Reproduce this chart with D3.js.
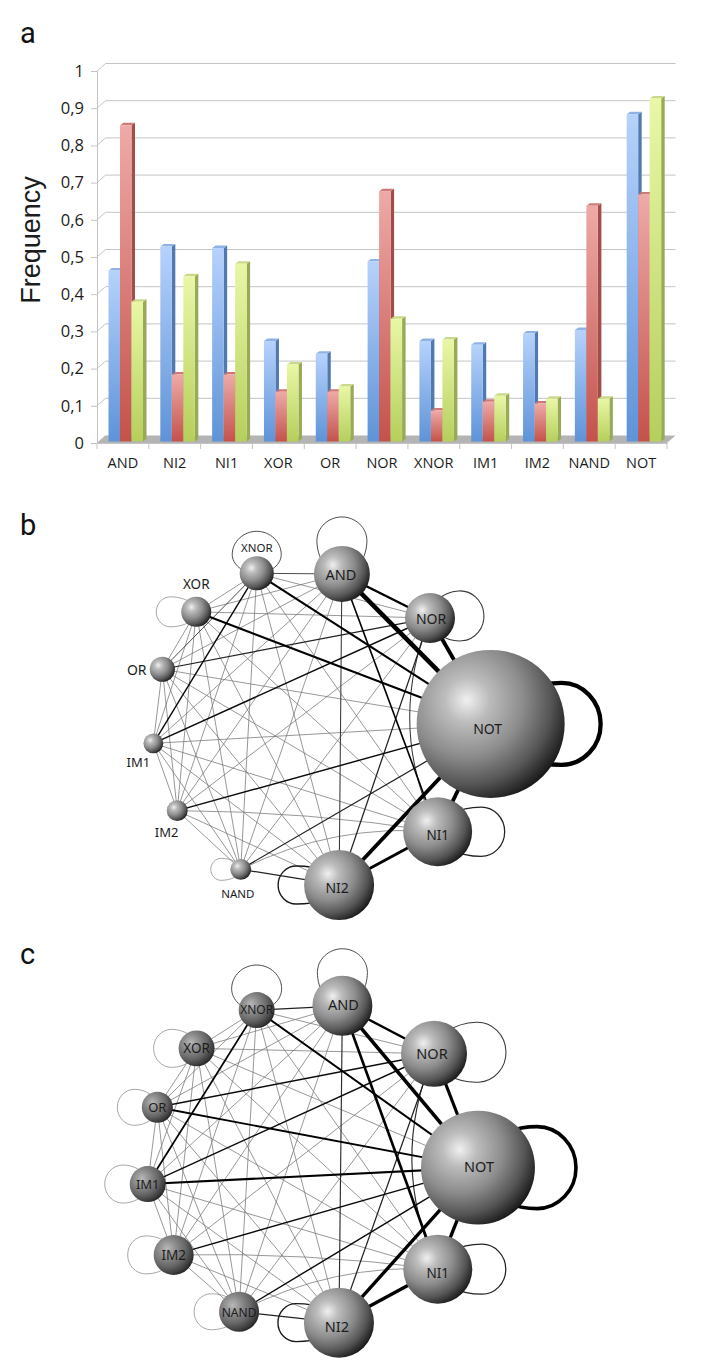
<!DOCTYPE html>
<html lang="en">
<head>
    <meta charset="UTF-8">
    <title>Logic gate frequencies</title>
    <style>
        html, body { margin: 0; padding: 0; background: #fff; }
        svg { display: block; }
        text { fill: #1c1c1c; }
        .panel { font-family: Roboto, Arial, sans-serif; font-size: 29px; fill: #111; }
        .tick text { font-family: "Open Sans", sans-serif; }
    </style>
</head>
<body>
    <script src="https://d3js.org/d3.v7.min.js"></script>
    <script type="text/javascript">
        // ---- bar chart data (panel a) ----
        var categories = ["AND", "NI2", "NI1", "XOR", "OR", "NOR", "XNOR", "IM1", "IM2", "NAND", "NOT"];
        var blueValues = [0.46, 0.524, 0.52, 0.27, 0.236, 0.484, 0.27, 0.26, 0.29, 0.30, 0.88];
        var redValues = [0.85, 0.18, 0.18, 0.134, 0.134, 0.673, 0.083, 0.107, 0.102, 0.634, 0.664];
        var greenValues = [0.376, 0.444, 0.478, 0.207, 0.148, 0.33, 0.274, 0.123, 0.115, 0.115, 0.922];
        var yTicks = [0, 0.1, 0.2, 0.3, 0.4, 0.5, 0.6, 0.7, 0.8, 0.9, 1];
        var yTickLabels = ["0", "0,1", "0,2", "0,3", "0,4", "0,5", "0,6", "0,7", "0,8", "0,9", "1"];

        // ---- network data (panels b and c) ----
        var gates = ["AND", "NOR", "NOT", "NI1", "NI2", "NAND", "IM2", "IM1", "OR", "XOR", "XNOR"];
        var sizeB = [0.143, 0.114, 1, 0.217, 0.224, 0.02, 0.02, 0.018, 0.029, 0.041, 0.053];
        var sizeC = [0.164, 0.199, 0.593, 0.217, 0.224, 0.073, 0.073, 0.059, 0.044, 0.059, 0.059];
        // bearing in degrees and distance from the middle of each ring
        var bearingB = [11.7, 47.5, 88.7, 129.1, 169.5, 206.1, 238.1, 264.4, 291.7, 315.6, 341];
        var ringB = [157.3, 162.8, 180.7, 164.5, 159.7, 157.4, 156.4, 157.4, 158.9, 162.6, 163.6];
        var bearingC = [11.5, 48.1, 90.9, 129.2, 169.6, 205.8, 236.6, 263.3, 290.7, 315.8, 341];
        var ringC = [162.5, 166.6, 168, 164.9, 160.3, 163, 163.3, 163.4, 163.2, 162.7, 163.9];

        // every pair is linked; strength 1.6 unless listed here
        var strongB = [["AND", "NOT", 9.5], ["NOR", "NOT", 8], ["NI1", "NOT", 8], ["NI2", "NOT", 8], ["AND", "NOR", 5],
            ["NI2", "NI1", 6], ["XOR", "NOT", 4.4], ["XNOR", "NOT", 4.4], ["AND", "NI1", 3.4], ["AND", "NI2", 2.2],
            ["XNOR", "AND", 2], ["OR", "NOR", 2.6], ["IM1", "NOR", 3], ["IM1", "XNOR", 3], ["IM2", "NOT", 3],
            ["NAND", "NOT", 2.6], ["NAND", "NI2", 2.6], ["NOR", "NI1", 2.2], ["NOR", "NI2", 2.6], ["OR", "XNOR", 2]];
        var strongC = [["AND", "NOT", 7.5], ["NOR", "NOT", 6.5], ["NI1", "NOT", 7], ["NI2", "NOT", 7], ["AND", "NOR", 5],
            ["NI2", "NI1", 7], ["AND", "NI1", 5.5], ["AND", "NI2", 2.4], ["XNOR", "NOT", 4], ["OR", "NOT", 4],
            ["IM1", "NOT", 4.4], ["IM1", "XNOR", 3.6], ["OR", "NOR", 3], ["IM1", "NOR", 3], ["IM2", "NOT", 3],
            ["NAND", "NOT", 3], ["NAND", "NI2", 2.6], ["XNOR", "AND", 2.6], ["NOR", "NI1", 2.4], ["NOR", "NI2", 2.6]];
        var bentEdges = [["NOR", "NI1", -48], ["NAND", "NI1", 28], ["IM2", "NI1", 10]];

        // self loops: gate, direction in degrees, length, half width, strength
        var loopsB = [["XNOR", 0, 42, 24.5, 2], ["AND", 0, 57, 25, 2], ["NOR", 86, 54, 25, 2.2], ["NOT", 90, 110, 41, 9],
            ["NI1", 90, 67, 24.7, 2.6], ["NI2", 270, 61, 19, 2.8], ["NAND", 270, 30, 11, 1.5], ["XOR", 270, 40, 15, 1.5]];
        var loopsC = [["XNOR", 0, 45, 25, 2], ["AND", 0, 57, 25, 2], ["NOR", 88, 72, 30, 2.2], ["NOT", 90, 98, 41, 7.5],
            ["NI1", 90, 68, 25, 2.6], ["NI2", 270, 61, 19, 2.8], ["NAND", 270, 45, 18, 1.5], ["IM2", 270, 46, 19, 1.5],
            ["IM1", 270, 43, 19, 1.5], ["OR", 270, 40, 18, 1.5], ["XOR", 270, 43, 19, 1.5]];

        // ---- svg and gradients ----
        var svg = d3.select("body").append("svg").attr("width", 706).attr("height", 1363);
        var defs = svg.append("defs");

        function barGradient(id, top, bottom) {
            var g = defs.append("linearGradient").attr("id", id)
                .attr("x1", 0).attr("y1", 0).attr("x2", 0).attr("y2", 1);
            g.append("stop").attr("offset", "0%").attr("stop-color", top);
            g.append("stop").attr("offset", "100%").attr("stop-color", bottom);
        }
        barGradient("blueBar", "#b6d2fc", "#5e93d8");
        barGradient("redBar", "#eeaaa8", "#c4524b");
        barGradient("greenBar", "#e9f7a6", "#b5cf5c");

        function sphereGradient(id, stops) {
            var g = defs.append("radialGradient").attr("id", id)
                .attr("cx", 0.34).attr("cy", 0.34).attr("r", 0.76);
            stops.forEach(function(s) {
                g.append("stop").attr("offset", s[0]).attr("stop-color", s[1]);
            });
        }
        sphereGradient("sphere", [[0, "#f0f0f0"], [0.2, "#bcbcbc"], [0.5, "#8c8c8c"], [0.75, "#555"], [0.92, "#222"], [1, "#060606"]]);
        // the small nodes of panel c are drawn darker
        sphereGradient("sphereDark", [[0, "#b8b8b8"], [0.3, "#8c8c8c"], [0.6, "#666"], [0.85, "#3a3a3a"], [1, "#141414"]]);

        // ---- panel labels ----
        svg.selectAll("text.panel")
            .data([["a", 20, 43], ["b", 20, 535], ["c", 20, 964]])
            .enter().append("text")
            .attr("class", "panel")
            .attr("x", function(d) { return d[1]; })
            .attr("y", function(d) { return d[2]; })
            .text(function(d) { return d[0]; });

        // ---- panel a ----
        var x = d3.scaleBand().domain(categories).range([97, 667]);
        var y = d3.scaleLinear().domain([0, 1]).range([443, 71]);
        var wallX = 8.5, wallY = -7.5;   // depth of the pseudo 3d wall
        var barW = 11.5, barStart = 11.5, capX = 3.5, capY = -2.5, barLift = -1.5;
        var a = svg.append("g");

        // floor
        a.append("path").attr("fill", "#b4b4b4").attr("d", d3.line()([
            [x.range()[0], y(0)], [x.range()[0] + wallX, y(0) + wallY],
            [x.range()[1] + wallX, y(0) + wallY], [x.range()[1], y(0)]
        ]));

        // back wall grid and its left side
        a.selectAll("line.grid").data(yTicks.slice(1)).enter().append("line")
            .attr("x1", x.range()[0] + wallX).attr("x2", x.range()[1] + wallX)
            .attr("y1", function(d) { return y(d) + wallY; })
            .attr("y2", function(d) { return y(d) + wallY; })
            .attr("stroke", "#c4c4c4").attr("stroke-width", 1);
        a.selectAll("line.side").data(yTicks).enter().append("line")
            .attr("x1", x.range()[0]).attr("x2", x.range()[0] + wallX)
            .attr("y1", function(d) { return y(d); })
            .attr("y2", function(d) { return y(d) + wallY; })
            .attr("stroke", "#c4c4c4");

        var yAxis = d3.axisLeft(y).tickValues(yTicks).tickSize(6).tickPadding(7)
            .tickFormat(function(d, i) { return yTickLabels[i]; });
        var yg = a.append("g").attr("transform", "translate(" + x.range()[0] + ",0)").call(yAxis);
        yg.select(".domain").attr("stroke", "#c4c4c4");
        yg.selectAll(".tick line").attr("stroke", "#c4c4c4");
        yg.selectAll(".tick text").attr("font-size", 16.5).attr("fill", "#222");

        var xAxis = d3.axisBottom(x).tickSize(0).tickPadding(15);
        var xg = a.append("g").attr("transform", "translate(0," + y(0) + ")").call(xAxis);
        xg.select(".domain").attr("stroke", "#c4c4c4");
        xg.selectAll(".tick text").attr("font-size", 14.5).attr("fill", "#222");
        a.selectAll("line.xtick").data(categories.concat("end")).enter().append("line")
            .attr("x1", function(d, i) { return x.range()[0] + i * x.step(); })
            .attr("x2", function(d, i) { return x.range()[0] + i * x.step(); })
            .attr("y1", y(0)).attr("y2", y(0) + 6).attr("stroke", "#c4c4c4");

        // bars, back to front so each one covers the side of the one behind
        var barSeries = [
            { values: blueValues, fill: "url(#blueBar)", side: "#5079b0", cap: "#8fb2e6" },
            { values: redValues, fill: "url(#redBar)", side: "#a14e4b", cap: "#cf7a76" },
            { values: greenValues, fill: "url(#greenBar)", side: "#98aa55", cap: "#c8d98a" }
        ];
        barSeries.forEach(function(s, k) {
            var g = a.append("g");
            var left = function(i) { return x(categories[i]) + barStart + k * barW; };
            var top = function(v) { return y(v) + barLift; };
            s.values.forEach(function(v, i) {
                var x0 = left(i), x1 = x0 + barW, t = top(v), b = top(0);
                g.append("path").attr("fill", s.side).attr("d", d3.line()([
                    [x1, t], [x1 + capX, t + capY], [x1 + capX, b + capY], [x1, b]
                ]));
                g.append("path").attr("fill", s.cap).attr("d", d3.line()([
                    [x0, t], [x0 + capX, t + capY], [x1 + capX, t + capY], [x1, t]
                ]));
                g.append("rect").attr("x", x0).attr("y", t).attr("width", barW).attr("height", b - t)
                    .attr("fill", s.fill);
            });
        });

        // y title
        a.append("text")
            .attr("transform", "translate(39.5,240) rotate(-90)")
            .attr("text-anchor", "middle")
            .attr("font-family", "'Liberation Sans', Arial, sans-serif")
            .attr("font-size", 27)
            .text("Frequency");

        // ---- panels b and c ----
        var angle = d3.scaleLinear().domain([0, 360]).range([0, 2 * Math.PI]);
        var nodeRadius = d3.scaleSqrt().domain([0, 1]).range([0, 74]);
        var edgeWidth = d3.scaleLinear().domain([0, 10]).range([0, 4.8]);
        var edgeColor = d3.scaleLinear().domain([1.5, 2, 3.2]).range(["#858585", "#444", "#000"]).clamp(true);

        function drawNetwork(opt) {
            var g = svg.append("g").attr("transform", "translate(" + opt.center + ")");
            var pos = {}, rad = {};
            gates.forEach(function(name, i) {
                pos[name] = d3.pointRadial(angle(opt.bearing[i]), opt.ring[i]);
                rad[name] = nodeRadius(opt.size[i]);
            });

            // complete graph, weak links underneath
            var edges = [];
            d3.range(gates.length).forEach(function(i) {
                d3.range(i + 1, gates.length).forEach(function(j) {
                    var hit = opt.strong.find(function(e) {
                        return (e[0] === gates[i] && e[1] === gates[j]) || (e[1] === gates[i] && e[0] === gates[j]);
                    });
                    edges.push(hit || [gates[i], gates[j], 1.6]);
                });
            });
            edges.sort(function(p, q) { return p[2] - q[2]; });

            g.selectAll("path.edge").data(edges).enter().append("path")
                .attr("class", "edge")
                .attr("fill", "none")
                .attr("stroke", function(d) { return edgeColor(d[2]); })
                .attr("stroke-width", function(d) { return edgeWidth(d[2]); })
                .attr("d", function(d) {
                    var bend = bentEdges.find(function(e) {
                        return (e[0] === d[0] && e[1] === d[1]) || (e[1] === d[0] && e[0] === d[1]);
                    });
                    var p = d3.path();
                    if (!bend) {
                        p.moveTo(pos[d[0]][0], pos[d[0]][1]);
                        p.lineTo(pos[d[1]][0], pos[d[1]][1]);
                        return p.toString();
                    }
                    var s = pos[bend[0]], t = pos[bend[1]];
                    var dx = t[0] - s[0], dy = t[1] - s[1], len = Math.hypot(dx, dy);
                    p.moveTo(s[0], s[1]);
                    p.quadraticCurveTo((s[0] + t[0]) / 2 + dy / len * bend[2], (s[1] + t[1]) / 2 - dx / len * bend[2], t[0], t[1]);
                    return p.toString();
                });

            // self loops: leave the node sideways, tip is about a half circle
            g.selectAll("path.loop").data(opt.loops).enter().append("path")
                .attr("class", "loop")
                .attr("fill", "none")
                .attr("stroke", function(d) { return edgeColor(d[4]); })
                .attr("stroke-width", function(d) { return edgeWidth(d[4]); })
                .attr("transform", function(d) {
                    return "translate(" + pos[d[0]] + ") rotate(" + d[1] + ")";
                })
                .attr("d", function(d) {
                    var L = d[2], h = d[3], w = L - h * 0.95, m = L - w;
                    var p = d3.path();
                    p.moveTo(0, 0);
                    p.bezierCurveTo(-0.6 * h, 0, -h, -0.5 * w, -h, -w);
                    p.bezierCurveTo(-h, -w - 0.55 * m, -0.55 * h, -L, 0, -L);
                    p.bezierCurveTo(0.55 * h, -L, h, -w - 0.55 * m, h, -w);
                    p.bezierCurveTo(h, -0.5 * w, 0.6 * h, 0, 0, 0);
                    return p.toString();
                });

            // spheres
            g.selectAll("circle.node").data(gates).enter().append("circle")
                .attr("class", "node")
                .attr("cx", function(d) { return pos[d][0]; })
                .attr("cy", function(d) { return pos[d][1]; })
                .attr("r", function(d) { return rad[d]; })
                .attr("fill", function(d) {
                    return opt.dark.indexOf(d) >= 0 ? "url(#sphereDark)" : "url(#sphere)";
                });

            // labels
            g.selectAll("text.label").data(gates).enter().append("text")
                .attr("class", "label")
                .attr("text-anchor", "middle")
                .attr("font-family", "'Noto Sans', sans-serif")
                .attr("x", function(d) { return pos[d][0] + opt.labels[d][0]; })
                .attr("y", function(d) { return pos[d][1] + opt.labels[d][1]; })
                .attr("font-size", function(d) { return opt.labels[d][2]; })
                .text(function(d) { return d; });
        }

        drawNetwork({
            center: [310, 728], size: sizeB, bearing: bearingB, ring: ringB,
            strong: strongB, loops: loopsB, dark: [],
            labels: {
                AND: [-1, 6, 14.5], NOR: [1, 6, 14], NOT: [-3, 10, 14], NI1: [0, 8, 13.5], NI2: [-2, 8, 14],
                NAND: [-3, 29, 11.5], IM2: [-10.6, 26, 13], IM1: [-15, 24, 13], OR: [-25.6, 6, 14], XOR: [0, -22.7, 13.5], XNOR: [0, -21, 11.5]
            }
        });
        drawNetwork({
            center: [310, 1165], size: sizeC, bearing: bearingC, ring: ringC,
            strong: strongC, loops: loopsC, dark: ["XNOR", "XOR", "OR", "IM1", "IM2", "NAND"],
            labels: {
                AND: [1, 4, 14.5], NOR: [-2, 5, 14.5], NOT: [1, 4, 14.5], NI1: [0, 9, 13.5], NI2: [-2, 9, 14.5],
                NAND: [0, 5, 12], IM2: [0, 5, 13.5], IM1: [0, 4.5, 13], OR: [0, 4.5, 13], XOR: [0, 4.5, 13.5], XNOR: [0, 4, 12]
            }
        });
    </script>
</body>
</html>
